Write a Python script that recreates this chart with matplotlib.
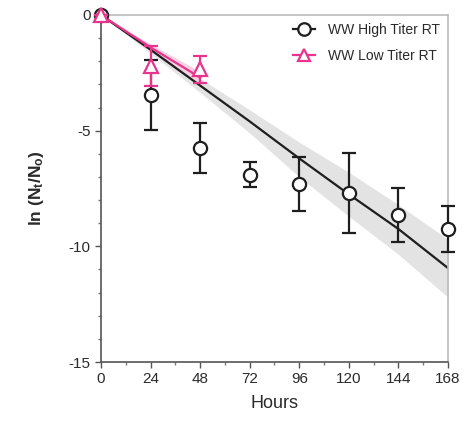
import matplotlib.pyplot as plt
from matplotlib.ticker import MultipleLocator

plt.rcParams["font.family"] = ["Liberation Sans", "DejaVu Sans"]
plt.rcParams["mathtext.fontset"] = "custom"
plt.rcParams["mathtext.bf"] = "Liberation Sans:bold"

# measured points
hours = [0, 24, 48, 72, 96, 120, 144, 168]
high_mean = [0, -3.45, -5.75, -6.9, -7.3, -7.7, -8.65, -9.25]
high_err = [0, 1.5, 1.1, 0.55, 1.17, 1.73, 1.17, 1.0]

low_hours = [0, 24, 48]
low_mean = [0, -2.2, -2.35]
low_err = [0, 0.86, 0.57]

# fitted curves
fit_high = [0, -1.5, -3.05, -4.6, -6.2, -7.75, -9.25, -10.94]
band_high_lo = [0, -1.65, -3.35, -5.1, -7.0, -8.7, -10.35, -12.2]
band_high_hi = [0, -1.35, -2.75, -4.1, -5.5, -6.8, -8.2, -9.7]

fit_low = [0, -1.4, -2.7]
band_low_lo = [0, -1.55, -2.95]
band_low_hi = [0, -1.25, -2.45]

BLACK = "#1e1e1e"
PINK = "#e8358c"
TEXT = "#2a2a2a"

fig = plt.figure(figsize=(4.62, 4.26), dpi=100)
ax = fig.add_axes([0.2186, 0.1502, 0.7511, 0.8146])

ax.fill_between(hours, band_high_lo, band_high_hi, color="#e3e3e3", lw=0, zorder=1)
ax.fill_between(low_hours, band_low_lo, band_low_hi, color="#f7d0e2", lw=0, zorder=1)
ax.plot(hours, fit_high, color=BLACK, lw=1.6, zorder=2)
ax.plot(low_hours, fit_low, color=PINK, lw=1.6, zorder=3)

ax.errorbar(hours, high_mean, yerr=high_err, fmt="o", ms=9.5, mfc="white",
            mec=BLACK, mew=1.6, ecolor=BLACK, elinewidth=1.6, capsize=5,
            capthick=1.6, zorder=4, clip_on=False)
ax.errorbar(low_hours, low_mean, yerr=low_err, fmt="^", ms=9.5, mfc="white",
            mec=PINK, mew=1.6, ecolor=PINK, elinewidth=1.6, capsize=5,
            capthick=1.6, zorder=5, clip_on=False)

# legend handles: marker with a line through
h1, = ax.plot([], [], color=BLACK, marker="o", ms=9, mfc="white", mew=1.6, lw=1.6)
h2, = ax.plot([], [], color=PINK, marker="^", ms=9, mfc="white", mew=1.6, lw=1.6)
ax.legend([h1, h2], ["WW High Titer RT", "WW Low Titer RT"], loc="upper right",
          frameon=False, fontsize=10, handlelength=1.6, handletextpad=0.9,
          borderaxespad=0.2, labelspacing=0.85, labelcolor=TEXT)

ax.set_xlim(0, 168)
ax.set_ylim(-15, 0)
ax.xaxis.set_major_locator(MultipleLocator(24))
ax.xaxis.set_minor_locator(MultipleLocator(12))
ax.yaxis.set_minor_locator(MultipleLocator(1))
ax.set_yticks([-15, -10, -5, 0])
ax.set_yticklabels(["-15", "-10", "-5", "0"])

for side in ("left", "bottom"):
    ax.spines[side].set_color("#555555")
    ax.spines[side].set_linewidth(1.2)
for side in ("top", "right"):
    ax.spines[side].set_color("#bbbbbb")
    ax.spines[side].set_linewidth(1.2)

ax.tick_params(which="major", direction="out", length=4, width=1, color="#555555",
               labelsize=11, labelcolor=TEXT)
ax.tick_params(which="minor", direction="out", length=2.5, width=1, color="#777777")

ax.set_xlabel("Hours", fontsize=13, color=TEXT, labelpad=6)
ax.set_ylabel(r"ln (N$\mathbf{_t}$/N$\mathbf{_o}$)", fontsize=12.5, color=TEXT,
              labelpad=16, fontweight="bold")

fig.savefig("out.png", dpi=100)
